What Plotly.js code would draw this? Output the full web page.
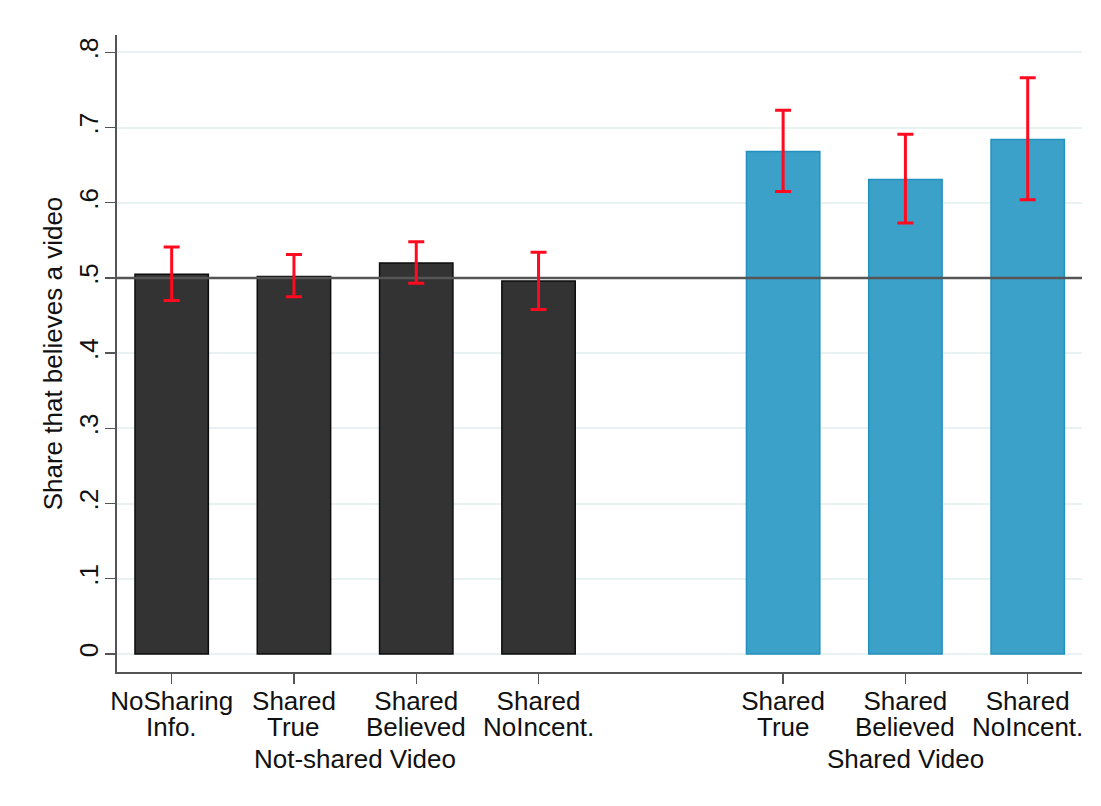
<!DOCTYPE html>
<html>
<head>
<meta charset="utf-8">
<script src="https://cdn.plot.ly/plotly-3.0.1.min.js"></script>
<style>
  html, body { margin: 0; padding: 0; background: #ffffff; }
  #chart { width: 1101px; height: 806px; }
</style>
</head>
<body>
<div id="chart"></div>
<script>
// ---- data ----
const groupNames = ["Not-shared Video", "Shared Video"];
const notSharedLine1 = ["NoSharing", "Shared", "Shared", "Shared"];
const notSharedLine2 = ["Info.", "True", "Believed", "NoIncent."];
const sharedLine1 = ["Shared", "Shared", "Shared"];
const sharedLine2 = ["True", "Believed", "NoIncent."];

const notSharedMean = [0.505, 0.502, 0.520, 0.496];
const notSharedLow  = [0.470, 0.475, 0.493, 0.458];
const notSharedHigh = [0.541, 0.531, 0.548, 0.534];

const sharedMean = [0.668, 0.631, 0.684];
const sharedLow  = [0.615, 0.573, 0.604];
const sharedHigh = [0.723, 0.691, 0.766];

const yTickVals = [0, 0.1, 0.2, 0.3, 0.4, 0.5, 0.6, 0.7, 0.8];
const yTickText = ["0", ".1", ".2", ".3", ".4", ".5", ".6", ".7", ".8"];
const refLine = 0.5;

// ---- positions (one empty slot between groups) ----
const posA = notSharedMean.map((_, i) => i);
const posB = sharedMean.map((_, i) => i + notSharedMean.length + 1);
const xRange = [-0.447, 7.444];

const FONT = "Liberation Sans, Arial, Helvetica, sans-serif";
const FS = 26;

function errTrace(pos, mean, lo, hi) {
  return {
    type: "scatter", mode: "markers", x: pos, y: mean,
    marker: { size: 0.1, color: "rgba(0,0,0,0)" },
    error_y: {
      type: "data", symmetric: false,
      array: hi.map((h, i) => h - mean[i]),
      arrayminus: lo.map((l, i) => mean[i] - l),
      color: "#ff0a1e", thickness: 3, width: 8
    },
    hoverinfo: "skip", showlegend: false, cliponaxis: false
  };
}

const traces = [
  { type: "scatter", mode: "lines", x: xRange, y: [refLine, refLine],
    line: { color: "#555555", width: 2.5 }, hoverinfo: "skip", showlegend: false },
  { type: "bar", x: posA, y: notSharedMean, width: 0.6,
    marker: { color: "#333333", line: { color: "#0d0d0d", width: 1.5 } },
    showlegend: false },
  { type: "bar", x: posB, y: sharedMean, width: 0.6,
    marker: { color: "#3ba1c8", line: { color: "#2391bf", width: 1.5 } },
    showlegend: false },
  errTrace(posA, notSharedMean, notSharedLow, notSharedHigh),
  errTrace(posB, sharedMean, sharedLow, sharedHigh)
];

const allPos = posA.concat(posB);
const line1 = notSharedLine1.concat(sharedLine1);
const line2 = notSharedLine2.concat(sharedLine2);

const annotations = [];
allPos.forEach((p, i) => {
  annotations.push({
    x: p, xref: "x", y: 0, yref: "paper", yanchor: "middle", yshift: -55,
    text: line2[i], showarrow: false, font: { family: FONT, size: FS, color: "#111" }
  });
});
const groupCenters = [
  (posA[0] + posA[posA.length - 1]) / 2,
  (posB[0] + posB[posB.length - 1]) / 2
];
groupNames.forEach((g, i) => {
  annotations.push({
    x: groupCenters[i], xref: "x", y: 0, yref: "paper", yanchor: "middle", yshift: -87,
    text: g, showarrow: false, font: { family: FONT, size: FS, color: "#111" }
  });
});

const layout = {
  width: 1101, height: 806,
  margin: { l: 117, r: 19, t: 35, b: 134 },
  paper_bgcolor: "#ffffff", plot_bgcolor: "#ffffff",
  font: { family: FONT, size: FS, color: "#111" },
  bargap: 0,
  xaxis: {
    range: xRange, tickmode: "array", tickvals: allPos, ticktext: line1,
    ticks: "outside", ticklen: 10, tickwidth: 1.5, tickcolor: "#555",
    ticklabelstandoff: -5,
    showline: true, linecolor: "#555", linewidth: 2,
    showgrid: false, zeroline: false, fixedrange: true,
    tickfont: { family: FONT, size: FS, color: "#111" }
  },
  yaxis: {
    range: [-0.024, 0.823], tickmode: "array", tickvals: yTickVals, ticktext: yTickText,
    tickangle: -90,
    ticks: "outside", ticklen: 10, tickwidth: 1.5, tickcolor: "#555",
    ticklabelstandoff: -3,
    showline: true, linecolor: "#555", linewidth: 2,
    showgrid: true, gridcolor: "#eaf1f3", gridwidth: 2, zeroline: false,
    tickfont: { family: FONT, size: FS, color: "#111" },
    title: { text: "Share that believes a video", standoff: 3,
             font: { family: FONT, size: FS, color: "#111" } }
  },
  annotations: annotations
};

Plotly.newPlot("chart", traces, layout, { displayModeBar: false, staticPlot: true });
</script>
</body>
</html>
